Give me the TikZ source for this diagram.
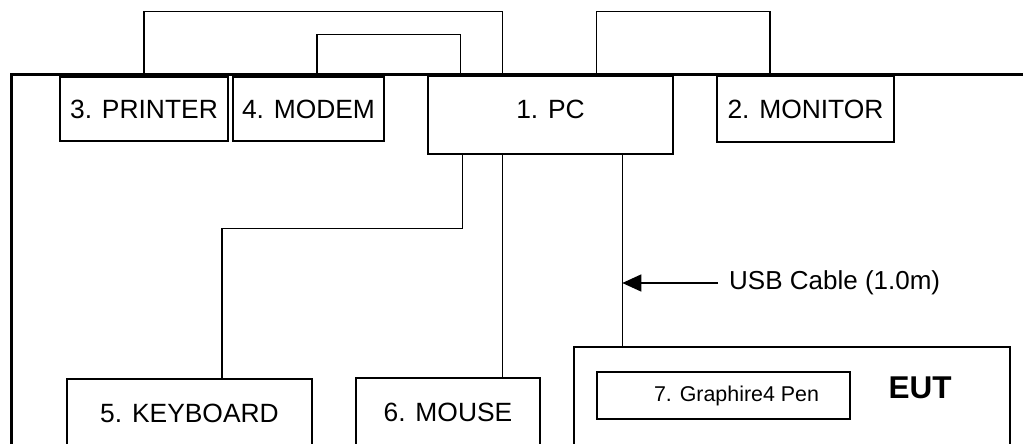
\documentclass[tikz,border=0pt]{standalone}
\usepackage{fontspec}
\setmainfont{Liberation Sans}
\usetikzlibrary{arrows.meta, positioning}
\tikzset{
    device/.style={rectangle, draw=black, fill=white, line width=1.4pt, inner sep=0pt, align=center, font=\fontsize{26.4}{30}\selectfont},
    cable/.style={draw=black, line width=1.4pt},
    frame/.style={draw=black, line width=3.5pt},
    cabletext/.style={inner sep=0pt, font=\fontsize{26}{30}\selectfont},
    arrow/.style={-{Triangle[length=19pt, width=17pt]}, black, line width=1.4pt}
}

\begin{document}
\begin{tikzpicture}[x=1pt, y=-1pt]
    \useasboundingbox (0,0) rectangle (1023,444);
    \clip (0,0) rectangle (1023,444);

    \draw [frame] (11.5,450) |- (1030,74.5);

    \node (printer) [device, minimum width=168pt, minimum height=64pt] at (144,109) {3. PRINTER};
    \node (modem) [device, minimum width=151pt, minimum height=64pt] at (308.5,109) {4. MODEM};
    \node (pc) [device, minimum width=245pt, minimum height=78pt, text depth=12pt] at (550.5,115) {1. PC};
    \node (monitor) [device, minimum width=177pt, minimum height=66pt] at (805.5,109) {2. MONITOR};

    \node (keyboard) [device, minimum width=245pt, minimum height=68pt] at (189.5,413) {5. KEYBOARD};
    \node (mouse) [device, minimum width=184pt, minimum height=69pt] at (448,412.5) {6. MOUSE};
    \node (eut) [device, minimum width=436pt, minimum height=100pt] at (792,397) {};
    \node (pen) [device, font=\fontsize{21.4}{25}\selectfont, minimum width=253pt, minimum height=47pt] at (723.5,395.5) {\hspace*{26pt}7. Graphire4 Pen};
    \node (eutlabel) [font=\bfseries\fontsize{31.5}{36}\selectfont] at (920,388) {EUT};

    % cables over the top
    \draw [cable] (printer.north) -- ++(0,-65) -| ([xshift=75pt]pc.north west);
    \draw [cable] ([xshift=8.5pt]modem.north) -- ++(0,-42) -| ([xshift=33pt]pc.north west);
    \draw [cable] ([xshift=169pt]pc.north west) -- ++(0,-64) -| ([xshift=-35.5pt]monitor.north);

    % cables below the pc
    \draw [cable] ([xshift=35pt]pc.south west) -- ++(0,74) -| ([xshift=32.5pt]keyboard.north);
    \draw [cable] ([xshift=75pt]pc.south west) coordinate (pc-mouse) -- (pc-mouse |- mouse.north);
    \draw [cable] ([xshift=195pt]pc.south west) coordinate (pc-usb) -- (pc-usb |- eut.north);

    \node (usb) [cabletext, anchor=west] at (729,283) {USB Cable (1.0m)};
    \draw [arrow] ([xshift=-11pt]usb.west) -- (usb.west -| pc-usb);
\end{tikzpicture}
\end{document}
